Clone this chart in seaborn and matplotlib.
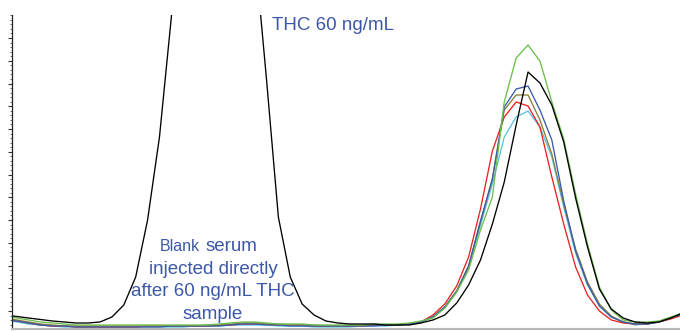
import numpy as np
import pandas as pd
import matplotlib
matplotlib.use('Agg')
import matplotlib.pyplot as plt
import seaborn as sns
from matplotlib.ticker import FixedLocator

# -------------------------------------------------------
# Chromatogram traces (scan index vs detector response)
# -------------------------------------------------------
scan = list(range(58))

thc_60 = [14, 12.5, 11, 9.5, 8, 7, 6, 6, 7, 12, 24, 52, 109, 192, 312, 450,
          520, 560, 540, 500, 440, 380, 250, 112, 52, 25, 14, 8, 6, 5, 5, 5,
          4, 4, 4, 6, 9, 14, 26, 44, 69, 105, 147, 204, 257, 246, 224, 187,
          131, 82, 40, 20, 11, 7, 6, 7, 11, 16]

blank_green = [13, 11, 9, 7, 6, 5, 4, 4, 4, 4, 4, 4, 4, 4, 4, 4, 4, 4, 5, 6,
               7, 7, 6, 5, 5, 5, 4, 4, 4, 4, 4, 5, 5, 5, 6, 8,
               11, 21, 37, 59, 99, 132, 227, 271, 284, 268, 227, 190, 135, 85,
               42, 19, 9, 7, 7, 8, 12, 16]

blank_red = [10, 8, 6, 4, 3, 3, 2, 2, 2, 2, 2, 2, 3, 3, 3, 3, 3, 3, 4, 4,
             5, 5, 5, 4, 4, 4, 3, 3, 3, 3, 3, 4, 4, 4, 5, 7,
             14, 25, 43, 72, 120, 178, 212, 227, 223, 202, 152, 105, 62, 34,
             18, 9, 6, 5, 5, 7, 10, 14]

blank_cyan = [8, 7, 5, 4, 3, 2, 2, 1, 1, 1, 2, 2, 2, 2, 2, 2, 3, 3, 3, 4,
              4, 4, 4, 3, 3, 3, 2, 2, 2, 2, 3, 3, 3, 4, 5, 7,
              12, 21, 37, 62, 104, 145, 192, 212, 218, 202, 172, 122, 76, 44,
              23, 12, 7, 4, 5, 7, 11, 15]

blank_blue = [9, 8, 6, 4, 3, 3, 2, 2, 2, 2, 2, 2, 2, 2, 3, 3, 3, 3, 3, 4,
              5, 5, 4, 4, 3, 3, 3, 3, 3, 3, 3, 3, 4, 4, 5, 7,
              12, 22, 38, 63, 108, 150, 222, 240, 243, 219, 189, 128, 78, 45,
              23, 12, 7, 5, 5, 7, 11, 15]

blank_olive = [11, 9, 7, 5, 4, 3, 3, 3, 3, 3, 3, 3, 3, 3, 3, 3, 3, 4, 4, 5,
               6, 6, 5, 5, 4, 4, 4, 3, 3, 3, 3, 4, 4, 4, 5, 7,
               12, 22, 38, 63, 107, 150, 219, 234, 234, 209, 175, 125, 80, 47,
               25, 13, 7, 5, 5, 7, 11, 16]

traces = {
    "cyan": blank_cyan,
    "red": blank_red,
    "olive": blank_olive,
    "blue": blank_blue,
    "green": blank_green,
    "black": thc_60,
}

colors = {
    "cyan": "#5bc3e3",
    "red": "#e8241f",
    "olive": "#8a7d3c",
    "blue": "#3b5ba8",
    "green": "#6cbf4a",
    "black": "#000000",
}

text_blue = "#3c58a8"

# -------------------------------------------------------
# Plot
# -------------------------------------------------------
sns.set_style("white")
plt.rcParams['font.family'] = ['Liberation Sans', 'DejaVu Sans']

df = pd.concat(
    [pd.DataFrame({"scan": scan, "response": vals, "trace": name})
     for name, vals in traces.items()],
    ignore_index=True,
)

fig = plt.figure(figsize=(6.8, 3.31), dpi=100)
ax = fig.add_axes([12 / 680, 2 / 331, 668 / 680, 314 / 331])

sns.lineplot(data=df, x="scan", y="response", hue="trace",
             hue_order=list(traces.keys()), palette=colors,
             linewidth=0.95, legend=False, ax=ax)

ax.set_xlim(0.597, 56.78)
ax.set_ylim(0, 314)
ax.set_xlabel("")
ax.set_ylabel("")
ax.set_xticks([])

# left axis: major + minor ticks, no labels
major = [18 + 22.75 * i for i in range(13)]
minor = [18 + 4.55 * i for i in range(-3, 66)]
ax.yaxis.set_major_locator(FixedLocator(major))
ax.yaxis.set_minor_locator(FixedLocator(minor))
ax.tick_params(axis="y", which="major", left=True, length=3, width=0.8,
               color="#333333", labelleft=False)
ax.tick_params(axis="y", which="minor", left=True, length=1.5, width=0.6,
               color="#555555")

for side in ["top", "right"]:
    ax.spines[side].set_visible(False)
ax.spines["left"].set_color("#222222")
ax.spines["left"].set_linewidth(0.9)
ax.spines["bottom"].set_color("#b8b8b8")
ax.spines["bottom"].set_linewidth(1.5)

# annotations
ax.text(22.47, 299, "THC 60 ng/mL", color=text_blue, fontsize=13.5,
        ha="left", va="baseline")
ax.text(16.4, 78, "Blank", color=text_blue, fontsize=11.5,
        ha="right", va="baseline")
ax.text(16.9, 78, "serum", color=text_blue, fontsize=13.5,
        ha="left", va="baseline")
ax.text(17.5, 55, "injected directly", color=text_blue, fontsize=13.5,
        ha="center", va="baseline")
ax.text(17.5, 32.5, "after 60 ng/mL THC", color=text_blue, fontsize=13.5,
        ha="center", va="baseline")
ax.text(17.5, 10, "sample", color=text_blue, fontsize=13.5,
        ha="center", va="baseline")

plt.savefig("out.png", dpi=100)
plt.close()
